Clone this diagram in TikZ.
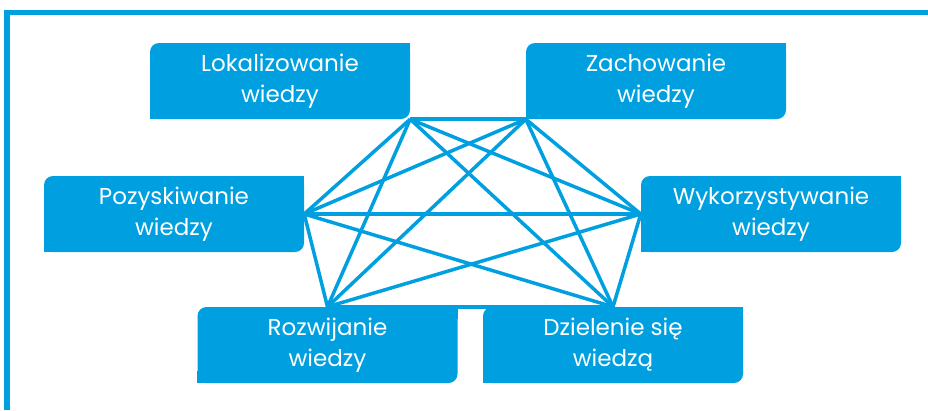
\documentclass[tikz,border=0pt]{standalone}
\usepackage{fontspec}
\setmainfont{Poppins}
\definecolor{kblue}{RGB}{0,160,224}
\tikzset{
  wbox/.style={fill=kblue, rounded corners=9pt, minimum width=260pt, minimum height=76pt,
    inner sep=0pt, align=center, text=white, font=\fontsize{23}{31}\selectfont},
  link/.style={draw=kblue, line width=3.5pt}
}
\begin{document}
\begin{tikzpicture}[x=1pt, y=-1pt]
        \useasboundingbox (0,0) rectangle (928,410);
        \draw[kblue, line width=5.5pt] (7,410) -- (7,12.5) -- (928,12.5);

        \node[wbox] (lok) at (280,81) {Lokalizowanie\\wiedzy};
        \node[wbox] (zach) at (656,81) {Zachowanie\\wiedzy};
        \node[wbox] (poz) at (174,214) {Pozyskiwanie\\wiedzy};
        \node[wbox] (wyk) at (771,214) {Wykorzystywanie\\wiedzy};
        \node[wbox] (roz) at (327.5,345) {Rozwijanie\\wiedzy};
        \node[wbox] (dziel) at (613,345) {Dzielenie się\\wiedzą};

        % only top-left and bottom-right corners stay round
        \foreach \n in {lok,zach,poz,wyk,roz,dziel} {
            \fill[kblue] (\n.north east) rectangle ++(-12,12);
            \fill[kblue] (\n.south west) rectangle ++(12,-12);
        }

        \coordinate (pl) at (lok.south east);
        \coordinate (pz) at (zach.south west);
        \coordinate (pp) at (poz.east);
        \coordinate (pw) at (wyk.west);
        \coordinate (pr) at (roz.north);
        \coordinate (pd) at (dziel.north);

        \foreach \a/\b in {pl/pz, pl/pp, pl/pw, pl/pr, pl/pd,
                           pz/pp, pz/pw, pz/pr, pz/pd,
                           pp/pw, pp/pr, pp/pd,
                           pw/pr, pw/pd,
                           pr/pd}
            \draw[link] (\a) -- (\b);
\end{tikzpicture}
\end{document}
